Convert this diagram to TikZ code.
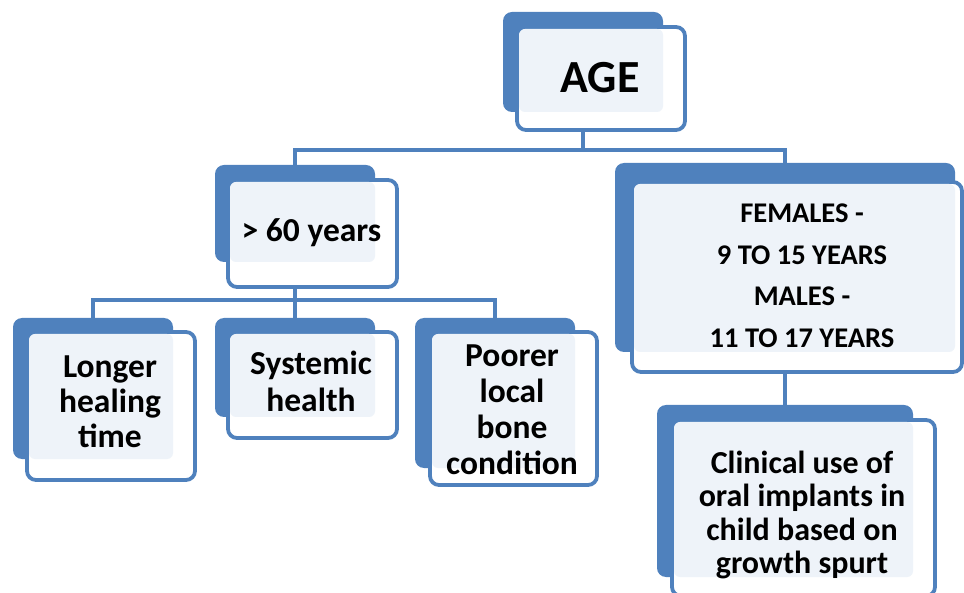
\documentclass[tikz,border=0pt]{standalone}
\usepackage{fontspec}
\usetikzlibrary{calc}
\setmainfont{Carlito}
\definecolor{ublue}{RGB}{79,129,189}
\definecolor{upale}{RGB}{238,243,249}
\begin{document}
\begin{tikzpicture}[x=1pt,y=-1pt,
  back/.style={fill=ublue, rounded corners=9pt, inner sep=0pt, outer sep=0pt},
  front/.style={fill=white, draw=ublue, line width=3.8pt, rounded corners=9pt},
  pale/.style={fill=upale, rounded corners=6pt},
  link/.style={draw=ublue, line width=3.8pt},
  txt/.style={anchor=base, inner sep=0pt, font=\bfseries\fontsize{33.5}{35}\selectfont}]
\useasboundingbox (0,0) rectangle (964,593);
% back plates
\node[back, minimum width=160pt, minimum height=100pt] (age) at (583,62) {};
\node[back, minimum width=160pt, minimum height=97pt] (old) at (295,213.5) {};
\node[back, minimum width=160pt, minimum height=141pt] (heal) at (93,388.5) {};
\node[back, minimum width=160pt, minimum height=99pt] (sys) at (295,367.5) {};
\node[back, minimum width=160pt, minimum height=150pt] (bone) at (495,393) {};
\node[back, minimum width=340pt, minimum height=189pt] (young) at (785,257.5) {};
\node[back, minimum width=256pt, minimum height=172pt] (clin) at (785,491) {};
% connectors
\coordinate (j1) at ($(age.south)+(0,38)$);
\coordinate (j2) at ($(old.south)+(0,38)$);
\draw[link] (age.south) -- (j1) -| (old.north);
\draw[link] (j1) -| (young.north);
\draw[link] (old.south) -- (j2) -| (heal.north);
\draw[link] (j2) -| (sys.north);
\draw[link] (j2) -| (bone.north);
\draw[link] (young.south) -- (clin.north);
% front boxes
\draw[front] (517,27) rectangle (685,130);
\fill[pale] (519,29) rectangle (663,112);
\draw[front] (228,180) rectangle (397,287);
\fill[pale] (230,182) rectangle (375,262);
\draw[front] (27,332) rectangle (195,480);
\fill[pale] (29,334) rectangle (173,459);
\draw[front] (228,332) rectangle (397,438);
\fill[pale] (230,334) rectangle (375,417);
\draw[front] (430,332) rectangle (597,485);
\fill[pale] (432,334) rectangle (575,468);
\draw[front] (632,182) rectangle (962,372);
\fill[pale] (634,184) rectangle (955,352);
\draw[front] (672,420) rectangle (935,596);
\fill[pale] (674,422) rectangle (913,577);
% texts
\node[txt, font=\bfseries\fontsize{46}{50}\selectfont] (tage) at (600,93) {AGE};
\node[txt, font=\bfseries\fontsize{33.5}{36}\selectfont] (told) at (311.5,242) {> 60 years};
\node[txt] (theal) at (110,378) {\setlength\tabcolsep{0pt}\begin{tabular}[t]{c}Longer\\healing\\time\end{tabular}};
\node[txt, font=\bfseries\fontsize{33.5}{36.5}\selectfont] (tsys) at (311,375) {\setlength\tabcolsep{0pt}\begin{tabular}[t]{c}Systemic\\health\end{tabular}};
\node[txt, font=\bfseries\fontsize{33.5}{36}\selectfont] (tbone) at (512,367) {\setlength\tabcolsep{0pt}\begin{tabular}[t]{c}Poorer\\local\\bone\\condition\end{tabular}};
\node[txt, font=\bfseries\fontsize{28.5}{41.5}\selectfont] (tyoung) at (802,223) {\setlength\tabcolsep{0pt}\begin{tabular}[t]{c}FEMALES -\\9 TO 15 YEARS\\MALES -\\11 TO 17 YEARS\end{tabular}};
\node[txt, font=\bfseries\fontsize{32}{33.5}\selectfont] (tclin) at (802,473) {\setlength\tabcolsep{0pt}\begin{tabular}[t]{c}Clinical use of\\oral implants in\\child based on\\growth spurt\end{tabular}};
\end{tikzpicture}
\end{document}
